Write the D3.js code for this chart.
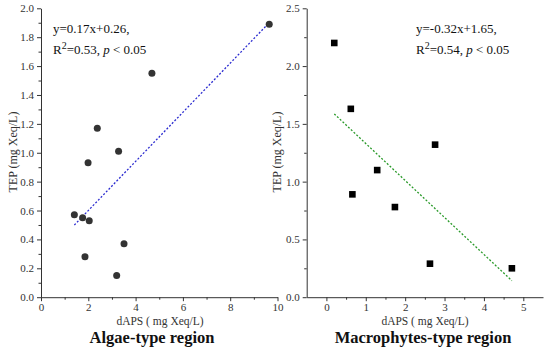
<!DOCTYPE html>
<html>
<head>
<meta charset="utf-8">
<script src="https://cdn.jsdelivr.net/npm/d3@7"></script>
<style>
body { margin: 0; background: #fff; }
text { font-family: "Liberation Serif", "Times New Roman", serif; }
</style>
</head>
<body>
<script>
// left panel: algae-type region
var algaeX = [9.65, 4.69, 2.38, 3.28, 1.99, 1.41, 1.76, 2.04, 3.51, 1.86, 3.2];
var algaeY = [1.89, 1.55, 1.17, 1.01, 0.93, 0.57, 0.55, 0.53, 0.37, 0.28, 0.15];
var algaeFit = [0.17, 0.26];
// right panel: macrophytes-type region
var macroX = [0.2, 0.62, 2.76, 1.29, 0.66, 1.74, 2.63, 4.71];
var macroY = [2.2, 1.63, 1.32, 1.1, 0.89, 0.78, 0.29, 0.25];
var macroFit = [-0.32, 1.65];

var algaeXTicks = [0, 2, 4, 6, 8, 10];
var algaeYTicks = [0, 0.2, 0.4, 0.6, 0.8, 1.0, 1.2, 1.4, 1.6, 1.8, 2.0];
var macroXTicks = [0, 1, 2, 3, 4, 5];
var macroYTicks = [0, 0.5, 1.0, 1.5, 2.0, 2.5];

var svg = d3.select('body').append('svg')
    .attr('width', 550)
    .attr('height', 350);

function panel(opt) {
    var x = d3.scaleLinear().domain(opt.xDomain).range(opt.xRange);
    var y = d3.scaleLinear().domain(opt.yDomain).range([297.2, 8.3]);
    var g = svg.append('g');

    // minor ticks first
    g.append('g')
        .attr('transform', 'translate(0,297.2)')
        .call(d3.axisBottom(x).tickValues(opt.xMinor).tickSize(2.5).tickFormat(''))
        .call(function(s){ s.select('.domain').remove(); });
    g.append('g')
        .attr('transform', 'translate(' + opt.xRange[0] + ',0)')
        .call(d3.axisLeft(y).tickValues(opt.yMinor).tickSize(2.5).tickFormat(''))
        .call(function(s){ s.select('.domain').remove(); });

    g.append('g')
        .attr('transform', 'translate(0,297.2)')
        .call(d3.axisBottom(x).tickValues(opt.xTicks).tickSize(4).tickSizeOuter(0).tickPadding(2)
            .tickFormat(d3.format('d')));
    g.append('g')
        .attr('transform', 'translate(' + opt.xRange[0] + ',0)')
        .call(d3.axisLeft(y).tickValues(opt.yTicks).tickSize(4).tickSizeOuter(0).tickPadding(3)
            .tickFormat(d3.format('.1f')));
    g.selectAll('.tick text')
        .attr('font-family', '"Liberation Serif", serif')
        .attr('font-size', 11)
        .attr('fill', '#333');
    g.selectAll('.tick line, .domain').attr('stroke', '#333');

    // fit line over data range
    var ext = d3.extent(opt.xs);
    var f = opt.fit;
    g.append('line')
        .attr('x1', x(ext[0])).attr('y1', y(f[0] * ext[0] + f[1]))
        .attr('x2', x(ext[1])).attr('y2', y(f[0] * ext[1] + f[1]))
        .attr('stroke', opt.fitColor)
        .attr('stroke-width', 1.3)
        .attr('stroke-dasharray', '2,1.8');

    var pts = opt.xs.map(function(d, i){ return [d, opt.ys[i]]; });
    if (opt.square) {
        g.selectAll('rect.pt').data(pts).enter().append('rect')
            .attr('class', 'pt')
            .attr('x', function(d){ return x(d[0]) - 3.3; })
            .attr('y', function(d){ return y(d[1]) - 3.3; })
            .attr('width', 6.6).attr('height', 6.6)
            .attr('fill', '#000');
    } else {
        g.selectAll('circle.pt').data(pts).enter().append('circle')
            .attr('class', 'pt')
            .attr('cx', function(d){ return x(d[0]); })
            .attr('cy', function(d){ return y(d[1]); })
            .attr('r', 3.5)
            .attr('fill', '#333');
    }

    // axis titles
    g.append('text')
        .attr('x', opt.xLabelX).attr('y', 324.5)
        .attr('text-anchor', 'middle')
        .attr('font-size', 11.5)
        .attr('fill', '#333')
        .text('dAPS ( mg Xeq/L)');
    g.append('text')
        .attr('transform', 'translate(' + opt.yLabelX + ',152) rotate(-90)')
        .attr('text-anchor', 'middle')
        .attr('font-size', 12)
        .attr('fill', '#333')
        .text('TEP (mg Xeq/L)');
    g.append('text')
        .attr('x', opt.titleX).attr('y', 343)
        .attr('text-anchor', 'middle')
        .attr('font-size', 16.5)
        .attr('font-weight', 'bold')
        .attr('fill', '#111')
        .text(opt.title);

    // equation
    g.append('text')
        .attr('x', opt.eqX).attr('y', 33)
        .attr('font-size', 13)
        .attr('fill', '#111')
        .text(opt.eq);
    var r = g.append('text')
        .attr('x', opt.eqX).attr('y', 54)
        .attr('font-size', 13)
        .attr('fill', '#111');
    r.append('tspan').text('R');
    r.append('tspan').attr('dy', -5).attr('font-size', 10).text('2');
    r.append('tspan').attr('dy', 5).text('=' + opt.r2 + ', ');
    r.append('tspan').attr('font-style', 'italic').text('p');
    r.append('tspan').text(' < 0.05');
}

panel({
    xDomain: [0, 10], xRange: [41, 277.5], yDomain: [0, 2.0],
    xTicks: algaeXTicks, yTicks: algaeYTicks,
    xMinor: [1, 3, 5, 7, 9], yMinor: d3.range(0.1, 2.0, 0.2),
    xs: algaeX, ys: algaeY, fit: algaeFit, fitColor: '#2b2bd0',
    square: false, yLabelX: 17, xLabelX: 160, titleX: 152, title: 'Algae-type region',
    eqX: 53, eq: 'y=0.17x+0.26,', r2: '0.53'
});
panel({
    xDomain: [-0.5, 5.5], xRange: [306.7, 543], yDomain: [0, 2.5],
    xTicks: macroXTicks, yTicks: macroYTicks,
    xMinor: [0.5, 1.5, 2.5, 3.5, 4.5], yMinor: [0.25, 0.75, 1.25, 1.75, 2.25],
    xs: macroX, ys: macroY, fit: macroFit, fitColor: '#2a9a2a',
    square: true, yLabelX: 281, xLabelX: 425, titleX: 423, title: 'Macrophytes-type region',
    eqX: 416, eq: 'y=-0.32x+1.65,', r2: '0.54'
});
</script>
</body>
</html>
